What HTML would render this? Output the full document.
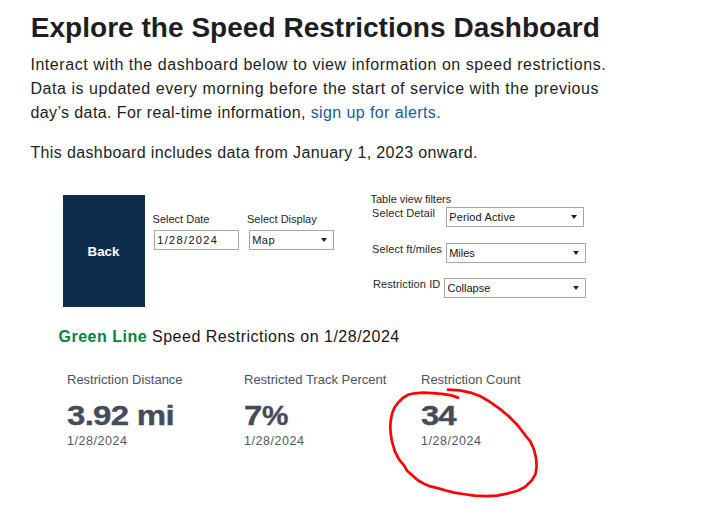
<!DOCTYPE html>
<html><head><meta charset="utf-8">
<style>
html,body{margin:0;padding:0;background:#fff;}
body{width:714px;height:506px;position:relative;overflow:hidden;font-family:"Liberation Sans",sans-serif;}
.a{position:absolute;white-space:nowrap;}
#title{left:30.8px;top:11.4px;font-size:28px;font-weight:bold;color:#1c1e23;line-height:34px;letter-spacing:0.03px;}
.p{left:30.4px;font-size:16px;color:#1c1e23;line-height:24px;}
.p a{color:#165c96;text-decoration:none;}
#back{left:63px;top:195px;width:82px;height:111.5px;background:#0e2d4b;color:#fff;font-weight:bold;font-size:13.3px;}
#back span{position:absolute;left:-0.5px;right:0.5px;text-align:center;top:48.7px;line-height:16px;}
.lbl{font-size:11px;color:#262626;line-height:13px;}
.box{border:1px solid #a6a6a6;background:#fff;box-sizing:border-box;height:19.5px;font-size:11px;color:#151515;}
.box span{position:absolute;left:2.2px;top:3px;line-height:13px;}
.tri{position:absolute;width:0;height:0;border-left:3px solid transparent;border-right:3px solid transparent;border-top:4px solid #222;}
#hdr{left:58.5px;top:327.8px;font-size:16px;color:#161616;line-height:18px;letter-spacing:0.5px;}
#hdr b{color:#00843d;}
.kl{font-size:13px;color:#4b5161;line-height:15px;}
.kv{font-size:27.5px;font-weight:bold;color:#464b5b;line-height:32px;letter-spacing:0px;transform:scaleX(1.2);transform-origin:0 0;-webkit-text-stroke:0.35px #464b5b;}
.kd{font-size:12.5px;color:#525866;line-height:14px;letter-spacing:0.55px;}
</style></head><body>
<div class="a" id="title">Explore the Speed Restrictions Dashboard</div>
<div class="a p" id="p1" style="top:53.2px;letter-spacing:0.555px">Interact with the dashboard below to view information on speed restrictions.</div>
<div class="a p" id="p2" style="top:77px;letter-spacing:0.55px">Data is updated every morning before the start of service with the previous</div>
<div class="a p" id="p3" style="top:100.8px;letter-spacing:0.4px">day’s data. For real-time information, <a>sign up for alerts.</a></div>
<div class="a p" id="p4" style="top:140.9px;letter-spacing:0.375px">This dashboard includes data from January 1, 2023 onward.</div>

<div class="a" id="back"><span>Back</span></div>

<div class="a lbl" id="l1" style="left:152.6px;top:212.7px">Select Date</div>
<div class="a box" id="b1" style="left:154px;top:230px;width:85px"><span style="letter-spacing:1.35px;color:#111">1/28/2024</span></div>
<div class="a lbl" id="l2" style="left:247px;top:212.7px">Select Display</div>
<div class="a box" id="b2" style="left:249px;top:230px;width:85px"><span style="letter-spacing:0.5px">Map</span><i class="tri" style="left:71px;top:7px"></i></div>

<div class="a lbl" id="l3" style="left:370.5px;top:192.8px">Table view filters</div>
<div class="a lbl" id="l4" style="left:372px;top:206.6px;letter-spacing:0.1px">Select Detail</div>
<div class="a box" id="b3" style="left:446px;top:207px;width:138px"><span style="letter-spacing:0.15px">Period Active</span><i class="tri" style="left:124.3px;top:7px"></i></div>
<div class="a lbl" id="l5" style="left:372px;top:243.4px;letter-spacing:0.1px">Select ft/miles</div>
<div class="a box" id="b4" style="left:446px;top:243px;width:140px"><span>Miles</span><i class="tri" style="left:126px;top:7px"></i></div>
<div class="a lbl" id="l6" style="left:373px;top:278.2px;letter-spacing:0.1px">Restriction ID</div>
<div class="a box" id="b5" style="left:444px;top:278px;width:142px"><span style="left:2.5px">Collapse</span><i class="tri" style="left:128px;top:7px"></i></div>

<div class="a" id="hdr"><b>Green Line</b> Speed Restrictions on 1/28/2024</div>

<div class="a kl" id="k1" style="left:67px;top:372px">Restriction Distance</div>
<div class="a kv" id="v1" style="left:67px;top:400px;letter-spacing:-0.6px">3.92 mi</div>
<div class="a kd" id="d1" style="left:67px;top:433.5px">1/28/2024</div>
<div class="a kl" id="k2" style="left:244px;top:372px">Restricted Track Percent</div>
<div class="a kv" id="v2" style="left:244px;top:400px">7<span style="display:inline-block;transform:scaleX(0.9);transform-origin:0 0">%</span></div>
<div class="a kd" id="d2" style="left:244px;top:433.5px">1/28/2024</div>
<div class="a kl" id="k3" style="left:421px;top:372px">Restriction Count</div>
<div class="a kv" id="v3" style="left:421px;top:400px;letter-spacing:-1px">34</div>
<div class="a kd" id="d3" style="left:421px;top:433.5px">1/28/2024</div>

<svg class="a" style="left:0;top:0" width="714" height="506" viewBox="0 0 714 506">
<polyline fill="none" stroke="#f00" stroke-width="2.7" stroke-linecap="round" stroke-linejoin="round" points="458,397.6 451.4,395.4 441.9,393.9 432.4,393.1 422.9,392.7 414.6,393.3 408.7,394.5 402.8,398 398,402.8 394.5,407.5 392.1,413.4 390.7,420.6 390.3,427.7 390.9,434.8 391.9,441.1 394.7,450.8 398.8,459.1 404.4,466 407.1,470.8 412.7,475.7 418.2,480.5 423.8,483.7 429.3,486.1 437.6,488.1 445.9,490.5 454.2,492.6 462.8,494 474.6,495.6 486.5,496.2 496.9,495.6 507.2,493.7 517.6,490.7 525,487 531.7,480.4 535.4,474.4 536.6,467 536.1,458.1 533.9,449.3 530.2,441.1 525.7,435.9 521.3,430 517.6,425.2 508.7,416.3 499.8,408.9 489.4,401.5 480.6,396.3 470.2,392.6 459.8,390.4 448,389.6"/>
</svg>
</body></html>
